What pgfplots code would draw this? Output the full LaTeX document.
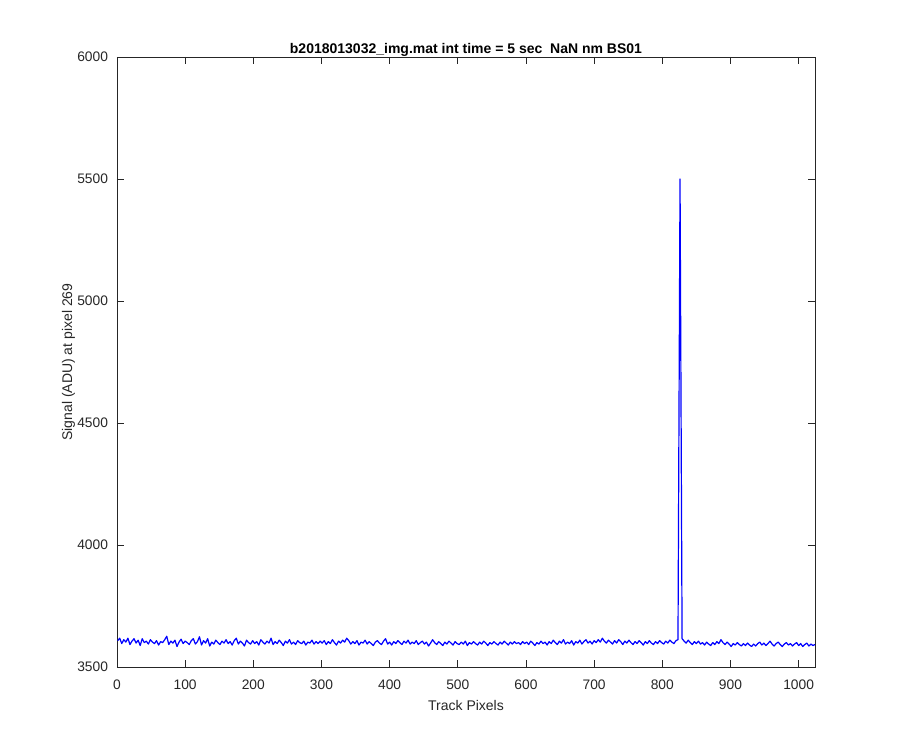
\documentclass[border=0pt]{standalone}
\usepackage{pgfplots}
\pgfplotsset{compat=1.18}
\usepackage{fontspec}
\setmainfont{Liberation Sans}
\definecolor{axgray}{gray}{0.15}
\begin{document}
\begin{tikzpicture}
\path[use as bounding box] (0,0) rectangle (900pt,750pt);
\begin{axis}[
  scale only axis,
  width=698pt, height=610pt,
  at={(117pt,83pt)}, anchor=south west,
  xmin=0, xmax=1024, ymin=3500, ymax=6000,
  xtick={0,100,...,1000},
  ytick={3500,4000,...,6000},
  tick align=inside,
  major tick length=7pt,
  axis line style={axgray, line width=0.7pt},
  every tick/.style={axgray, line width=0.7pt},
  tick label style={font=\fontsize{13.8}{15}\selectfont, text=axgray},
  xticklabel style={yshift=-9pt},
  yticklabel style={xshift=-5.5pt},
  /pgf/number format/assume math mode=true,
  /pgf/number format/1000 sep={},
  title={b2018013032\_img.mat int time = 5 sec\ \ NaN nm BS01},
  title style={at={(axis description cs:0.5,1.0015)}, anchor=center, font=\bfseries\fontsize{14}{16}\selectfont, text=black},
  xlabel={Track Pixels},
  xlabel style={at={(axis description cs:0.5,-0.0623)}, anchor=center, font=\fontsize{14}{16}\selectfont, text=axgray},
  ylabel={Signal (ADU) at pixel 269},
  ylabel style={at={(axis description cs:-0.0695,0.5)}, anchor=center, font=\fontsize{14}{16}\selectfont, text=axgray},
]
\addplot[blue, line width=1.2pt, line join=round] table {
x y
1 3608
4 3618
7 3596
10 3612
13 3602
16 3618
19 3592
22 3606
25 3616
28 3598
31 3610
34 3588
37 3616
40 3600
43 3606
46 3594
49 3612
52 3602
55 3596
58 3608
61 3590
64 3604
67 3600
70 3612
73 3626
76 3592
79 3606
82 3598
85 3610
88 3584
91 3602
94 3614
97 3596
100 3606
103 3600
106 3592
109 3608
112 3616
115 3594
118 3604
121 3624
124 3590
127 3608
130 3598
133 3616
136 3586
139 3602
142 3594
145 3610
148 3600
151 3592
154 3606
157 3598
160 3612
163 3596
166 3604
169 3590
172 3608
175 3618
178 3594
181 3606
184 3598
187 3586
190 3610
193 3600
196 3594
199 3608
202 3596
205 3604
208 3590
211 3612
214 3602
217 3594
220 3606
223 3598
226 3618
229 3592
232 3604
235 3596
238 3610
241 3600
244 3588
247 3606
250 3598
253 3612
256 3594
259 3602
262 3592
265 3608
268 3600
271 3596
274 3606
277 3590
280 3602
283 3598
286 3610
289 3594
292 3604
295 3596
298 3606
301 3598
304 3608
307 3592
310 3604
313 3596
316 3612
319 3600
322 3590
325 3606
328 3598
331 3610
334 3602
337 3618
340 3608
343 3594
346 3604
349 3596
352 3608
355 3590
358 3602
361 3598
364 3610
367 3594
370 3604
373 3596
376 3588
379 3602
382 3608
385 3598
388 3592
391 3606
394 3616
397 3594
400 3602
403 3590
406 3604
409 3596
412 3608
415 3600
418 3592
421 3606
424 3598
427 3610
430 3594
433 3602
436 3596
439 3608
442 3592
445 3600
448 3606
451 3594
454 3602
457 3586
460 3598
463 3612
466 3600
469 3592
472 3604
475 3596
478 3588
481 3602
484 3594
487 3606
490 3598
493 3590
496 3604
499 3596
502 3592
505 3602
508 3594
511 3606
514 3588
517 3600
520 3594
523 3604
526 3596
529 3590
532 3602
535 3594
538 3606
541 3598
544 3588
547 3600
550 3594
553 3604
556 3596
559 3590
562 3602
565 3594
568 3606
571 3598
574 3590
577 3602
580 3594
583 3604
586 3596
589 3600
592 3592
595 3604
598 3596
601 3602
604 3592
607 3606
610 3598
613 3588
616 3600
619 3594
622 3606
625 3596
628 3602
631 3590
634 3604
637 3596
640 3610
643 3600
646 3592
649 3606
652 3598
655 3612
658 3594
661 3602
664 3596
667 3608
670 3590
673 3604
676 3598
679 3610
682 3594
685 3604
688 3612
691 3598
694 3606
697 3594
700 3608
703 3600
706 3612
709 3602
712 3618
715 3606
718 3598
721 3610
724 3602
727 3594
730 3608
733 3598
736 3612
739 3604
742 3592
745 3606
748 3598
751 3610
754 3600
757 3592
760 3604
763 3596
766 3608
769 3600
772 3590
775 3604
778 3596
781 3608
784 3598
787 3592
790 3604
793 3596
796 3608
799 3600
802 3594
805 3606
808 3598
811 3610
814 3602
817 3596
820 3608
823 3612
826 5500
829 3616
832 3606
835 3598
838 3610
841 3600
844 3592
847 3604
850 3596
853 3606
856 3594
859 3600
862 3590
865 3602
868 3594
871 3588
874 3600
877 3592
880 3604
883 3596
886 3612
889 3600
892 3592
895 3602
898 3594
901 3584
904 3596
907 3590
910 3600
913 3592
916 3586
919 3596
922 3588
925 3598
928 3590
931 3584
934 3594
937 3586
940 3596
943 3602
946 3590
949 3598
952 3588
955 3596
958 3606
961 3594
964 3586
967 3596
970 3602
973 3592
976 3584
979 3594
982 3600
985 3590
988 3596
991 3586
994 3594
997 3600
1000 3588
1003 3596
1006 3584
1009 3592
1012 3598
1015 3586
1018 3594
1021 3588
1024 3592
};
\end{axis}
\end{tikzpicture}
\end{document}
